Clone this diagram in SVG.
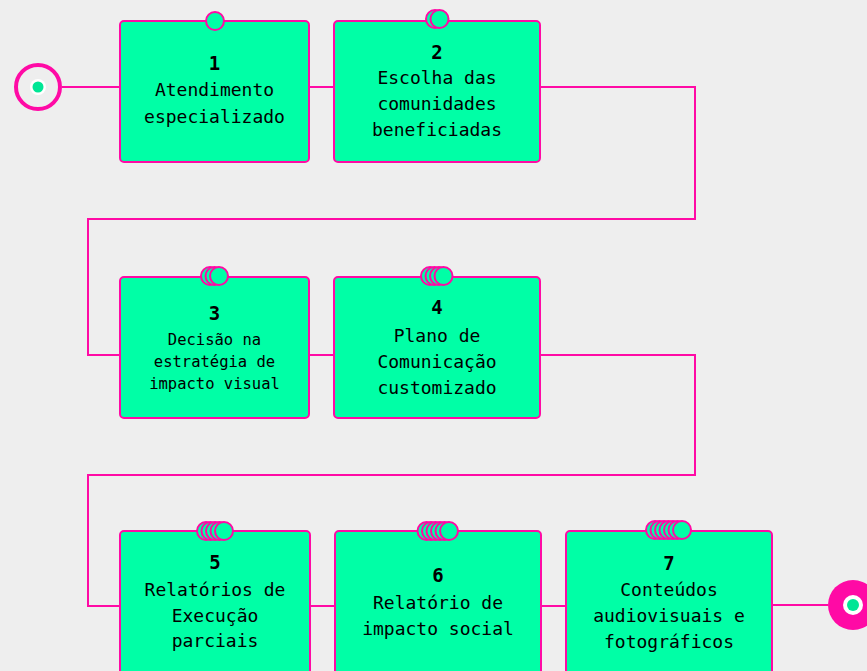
<svg xmlns="http://www.w3.org/2000/svg" width="867" height="671" viewBox="0 0 867 671">
<defs>
<style>
.bg{fill:#EEEEEE}
.box{fill:#00FFA6;stroke:#FF0AA5;stroke-width:2}
.tab circle{fill:#00FFA6;stroke:#FF0AA5;stroke-width:2}
.con{fill:none;stroke:#FF0AA5;stroke-width:2}
.num{font-family:"DejaVu Sans Mono","Liberation Mono",monospace;font-size:19px;font-weight:bold;fill:#000;text-anchor:middle}
.lbl{font-family:"DejaVu Sans Mono","Liberation Mono",monospace;font-size:18px;fill:#000;text-anchor:middle}
.sm{font-size:15.5px}
</style>
</defs>
<rect class="bg" x="0" y="0" width="867" height="671"/>
<g id="connectors">
<path class="con" d="M62,87 H120"/>
<path class="con" d="M309,87 H334"/>
<path class="con" d="M540,87 H695 V219 H88 V355 H120"/>
<path class="con" d="M309,355 H334"/>
<path class="con" d="M540,355 H695 V475 H88 V606 H120"/>
<path class="con" d="M310,606 H335"/>
<path class="con" d="M541,606 H566"/>
<path class="con" d="M772,605 H828"/>
</g>
<g id="start">
<circle cx="38" cy="87" r="22" fill="none" stroke="#FF0AA5" stroke-width="4"/>
<circle cx="38" cy="87" r="8" fill="#FFFFFF"/>
<circle cx="38" cy="87" r="5.5" fill="#00E695"/>
</g>
<g id="end">
<circle cx="853" cy="605" r="25" fill="#FF0AA5"/>
<circle cx="853" cy="605" r="10" fill="#FFFFFF"/>
<circle cx="853" cy="605" r="6" fill="#00E695"/>
</g>
<g id="node1">
<rect class="box" x="120" y="21" width="189" height="141" rx="4"/>
<g class="tab"><circle cx="215" cy="21" r="9"/></g>
<text class="num" x="214.5" y="69.5">1</text>
<text class="lbl" x="214.5" y="96">Atendimento</text>
<text class="lbl" x="214.5" y="122.5">especializado</text>
</g>
<g id="node2">
<rect class="box" x="334" y="21" width="206" height="141" rx="4"/>
<g class="tab"><circle cx="435" cy="19" r="9"/><circle cx="439.5" cy="19" r="9"/></g>
<text class="num" x="437" y="58.5">2</text>
<text class="lbl" x="437" y="83.5">Escolha das</text>
<text class="lbl" x="437" y="109.5">comunidades</text>
<text class="lbl" x="437" y="135.5">beneficiadas</text>
</g>
<g id="node3">
<rect class="box" x="120" y="277" width="189" height="141" rx="4"/>
<g class="tab"><circle cx="210" cy="276" r="9"/><circle cx="214.5" cy="276" r="9"/><circle cx="219" cy="276" r="9"/></g>
<text class="num" x="214.5" y="319.5">3</text>
<text class="lbl sm" x="214.5" y="345">Decisão na</text>
<text class="lbl sm" x="214.5" y="367">estratégia de</text>
<text class="lbl sm" x="214.5" y="389">impacto visual</text>
</g>
<g id="node4">
<rect class="box" x="334" y="277" width="206" height="141" rx="4"/>
<g class="tab"><circle cx="430" cy="276" r="9"/><circle cx="434.5" cy="276" r="9"/><circle cx="439" cy="276" r="9"/><circle cx="443.5" cy="276" r="9"/></g>
<text class="num" x="437" y="314">4</text>
<text class="lbl" x="437" y="341.5">Plano de</text>
<text class="lbl" x="437" y="367.5">Comunicação</text>
<text class="lbl" x="437" y="393.5">customizado</text>
</g>
<g id="node5">
<rect class="box" x="120" y="531" width="190" height="145" rx="4"/>
<g class="tab"><circle cx="206" cy="531" r="9"/><circle cx="210.5" cy="531" r="9"/><circle cx="215" cy="531" r="9"/><circle cx="219.5" cy="531" r="9"/><circle cx="224" cy="531" r="9"/></g>
<text class="num" x="215" y="568.5">5</text>
<text class="lbl" x="215" y="595.5">Relatórios de</text>
<text class="lbl" x="215" y="621.5">Execução</text>
<text class="lbl" x="215" y="647">parciais</text>
</g>
<g id="node6">
<rect class="box" x="335" y="531" width="206" height="145" rx="4"/>
<g class="tab"><circle cx="426.5" cy="531" r="9"/><circle cx="431" cy="531" r="9"/><circle cx="435.5" cy="531" r="9"/><circle cx="440" cy="531" r="9"/><circle cx="444.5" cy="531" r="9"/><circle cx="449" cy="531" r="9"/></g>
<text class="num" x="438" y="581.5">6</text>
<text class="lbl" x="438" y="608.5">Relatório de</text>
<text class="lbl" x="438" y="634.5">impacto social</text>
</g>
<g id="node7">
<rect class="box" x="566" y="531" width="206" height="145" rx="4"/>
<g class="tab"><circle cx="655" cy="530" r="9"/><circle cx="659.5" cy="530" r="9"/><circle cx="664" cy="530" r="9"/><circle cx="668.5" cy="530" r="9"/><circle cx="673" cy="530" r="9"/><circle cx="677.5" cy="530" r="9"/><circle cx="682" cy="530" r="9"/></g>
<text class="num" x="669" y="569.5">7</text>
<text class="lbl" x="669" y="596">Conteúdos</text>
<text class="lbl" x="669" y="622">audiovisuais e</text>
<text class="lbl" x="669" y="647.5">fotográficos</text>
</g>
</svg>
